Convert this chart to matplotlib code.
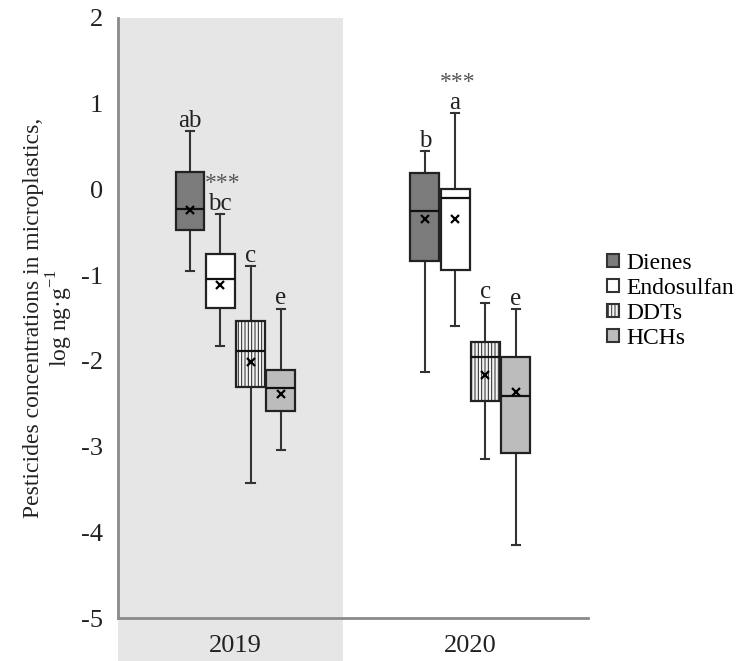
import matplotlib
matplotlib.use("Agg")
import matplotlib.pyplot as plt
from matplotlib.patches import Patch, Rectangle
import matplotlib.transforms as mtransforms

plt.rcParams["font.family"] = ["Liberation Serif", "DejaVu Serif"]
plt.rcParams["axes.unicode_minus"] = False
plt.rcParams["hatch.linewidth"] = 0.7

years = ["2019", "2020"]
pesticides = ["Dienes", "Endosulfan", "DDTs", "HCHs"]

# log ng/g summary values, order follows pesticides
whishi_2019 = [0.68, -0.29, -0.90, -1.39]
q3_2019 = [0.20, -0.75, -1.54, -2.11]
med_2019 = [-0.23, -1.05, -1.89, -2.32]
mean_2019 = [-0.24, -1.11, -2.01, -2.39]
q1_2019 = [-0.47, -1.38, -2.31, -2.59]
whislo_2019 = [-0.95, -1.83, -3.42, -3.04]

whishi_2020 = [0.45, 0.89, -1.32, -1.40]
q3_2020 = [0.19, 0.00, -1.78, -1.96]
med_2020 = [-0.25, -0.10, -1.96, -2.41]
mean_2020 = [-0.35, -0.35, -2.16, -2.36]
q1_2020 = [-0.84, -0.94, -2.47, -3.08]
whislo_2020 = [-2.13, -1.59, -3.15, -4.15]

letters_2019 = ["ab", "bc", "c", "e"]
letters_2020 = ["b", "a", "c", "e"]
stars_2019 = ["", "***", "", ""]
stars_2020 = ["", "***", "", ""]

yticks = [2, 1, 0, -1, -2, -3, -4, -5]

fills = ["#7b7b7b", "#ffffff", "#f4f4f4", "#bcbcbc"]
hatches = [None, None, "|||||", None]

stats_by_year = [
    (whishi_2019, q3_2019, med_2019, mean_2019, q1_2019, whislo_2019, letters_2019, stars_2019),
    (whishi_2020, q3_2020, med_2020, mean_2020, q1_2020, whislo_2020, letters_2020, stars_2020),
]

fig = plt.figure(figsize=(7.42, 6.61), dpi=100)
ax = fig.add_axes([0.159, 0.065, 0.633, 0.908])
ax.set_facecolor("none")

step = 0.129
width = 0.123
for g, (hi, q3, med, mean, q1, lo, lett, stars) in enumerate(stats_by_year):
    center = g + 0.5
    pos = [center + (i - 1.5) * step for i in range(len(pesticides))]
    stats = []
    for i in range(len(pesticides)):
        stats.append(dict(whishi=hi[i], q3=q3[i], med=med[i], mean=mean[i],
                          q1=q1[i], whislo=lo[i], fliers=[]))
    bp = ax.bxp(stats, positions=pos, widths=width, showmeans=True,
                patch_artist=True, capwidths=0.035, manage_ticks=False,
                boxprops=dict(edgecolor="#222222", linewidth=1.6),
                medianprops=dict(color="#111111", linewidth=1.6),
                whiskerprops=dict(color="#333333", linewidth=1.5),
                capprops=dict(color="#333333", linewidth=1.5),
                meanprops=dict(marker="x", markeredgecolor="black",
                               markersize=6, markeredgewidth=1.6))
    for i, box in enumerate(bp["boxes"]):
        box.set_facecolor(fills[i])
        if hatches[i]:
            box.set_hatch(hatches[i])
        box.set_zorder(3)
    for art in bp["medians"] + bp["means"]:
        art.set_zorder(5)
    for i in range(len(pesticides)):
        ax.annotate(lett[i], (pos[i], hi[i]), xytext=(0, 3),
                    textcoords="offset points", ha="center", va="baseline",
                    fontsize=18, color="#222222")
        if stars[i]:
            ax.annotate(stars[i], (pos[i], hi[i]), xytext=(2, 18),
                        textcoords="offset points", ha="center", va="baseline",
                        fontsize=17, color="#555555")

# shaded 2019 block, running down behind the tick label
trans = mtransforms.blended_transform_factory(ax.transData, ax.transAxes)
ax.add_patch(Rectangle((0, -0.08), 0.957, 1.08, transform=trans,
                       facecolor="#e6e6e6", edgecolor="none",
                       clip_on=False, zorder=0))

ax.set_xlim(0, 2)
ax.set_ylim(-5, 2)
ax.set_yticks(yticks)
ax.set_xticks([0.5, 1.5])
ax.set_xticklabels(years)
ax.tick_params(length=0, labelsize=19, colors="#222222")
ax.tick_params(axis="y", pad=11)
ax.tick_params(axis="x", pad=12)
for side in ["top", "right"]:
    ax.spines[side].set_visible(False)
for side in ["left", "bottom"]:
    ax.spines[side].set_color("#8a8a8a")
    ax.spines[side].set_linewidth(2)
    ax.spines[side].set_zorder(4)

ax.set_ylabel("Pesticides concentrations in microplastics,\nlog ng·g$^{\\mathregular{-1}}$",
              fontsize=17, color="#222222", labelpad=4, linespacing=1.05)

handles = [Patch(facecolor=fills[i], edgecolor="#333333", hatch=hatches[i],
                 linewidth=1.5, label=pesticides[i]) for i in range(len(pesticides))]
fig.legend(handles=handles, loc="center left", bbox_to_anchor=(0.806, 0.545),
           frameon=False, fontsize=17, handlelength=0.5, handleheight=0.5,
           handletextpad=0.3, labelspacing=0.17, borderaxespad=0)

fig.savefig("out.png", dpi=100)
